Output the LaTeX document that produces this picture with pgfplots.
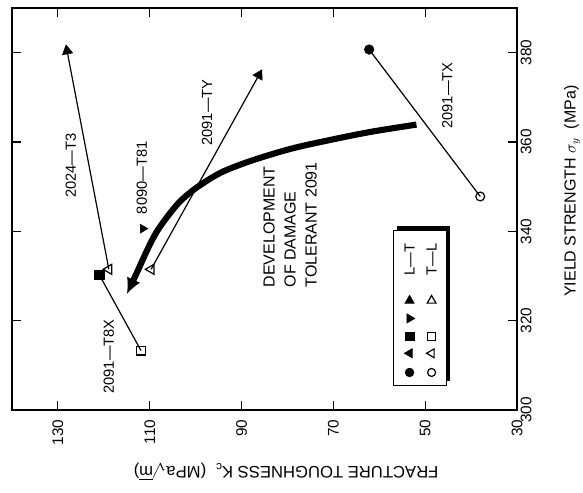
\documentclass[border=0pt]{standalone}
\usepackage{pgfplots}
\pgfplotsset{compat=1.18}
\usepackage{fontspec}
\setmainfont{Liberation Sans}
\usetikzlibrary{arrows.meta}
\begin{document}
\begin{tikzpicture}
\path[use as bounding box] (0,0) rectangle (437.25pt,369.75pt);
\begin{axis}[
  at={(9pt,62.25pt)}, anchor=south west,
  scale only axis, width=378.75pt, height=301.5pt,
  xmin=30, xmax=140, ymin=300, ymax=390,
  x dir=reverse,
  xtick={130,110,90,70,50,30},
  ytick={300,320,340,360,380},
  tick align=inside, tick pos=both,
  xticklabel pos=lower, yticklabel pos=right,
  major tick length=7pt,
  axis line style={line width=0.8pt, black},
  every tick/.style={line width=0.8pt, black},
  xticklabel style={yshift=-7pt, rotate=90, anchor=east, inner sep=0pt, font=\fontsize{11.5}{13}\selectfont},
  yticklabel style={xshift=2.5pt, rotate=90, anchor=north, inner sep=0pt, font=\fontsize{11.5}{13}\selectfont},
  /pgf/number format/assume math mode=true,
  clip=false,
]
% thick development curve
\addplot[line width=4.6pt, black, smooth, tension=0.5, -{Latex[length=12pt,width=11pt]}]
  coordinates {(51.9,363.9) (61.7,362.3) (70.5,360.5) (79.2,358.5) (87.9,355.8) (94.4,353.2) (99.5,350.0) (103.2,346.9) (106.0,343.5) (108.6,339.7) (110.6,335.7) (112.6,331.2) (115.0,325.9)};

% 2024-T3
\addplot[line width=0.9pt, black] coordinates {(128,380.4) (118.9,331.5)};
\addplot[only marks, black, mark=triangle*, mark size=4.5pt, mark options={rotate=10}] coordinates {(128,380.4)};
\addplot[only marks, black, mark=triangle, mark size=4.3pt, mark options={rotate=90, fill=white, line width=0.9pt}] coordinates {(118.9,331.5)};

% 2091-T8X
\addplot[line width=0.9pt, black] coordinates {(121,330.3) (111.9,313.3)};
\addplot[only marks, black, mark=square*, mark size=3.5pt] coordinates {(121,330.3)};
\addplot[only marks, black, mark=square, mark size=3.3pt, mark options={fill=white, line width=0.9pt}] coordinates {(111.9,313.3)};

% 2091-TY
\addplot[line width=0.9pt, black] coordinates {(109.7,331.5) (86.2,375)};
\addplot[only marks, black, mark=triangle*, mark size=4.5pt, mark options={rotate=-29}] coordinates {(86.2,375)};
\addplot[only marks, black, mark=triangle, mark size=4.3pt, mark options={rotate=90, fill=white, line width=0.9pt}] coordinates {(109.7,331.5)};

% 8090-T81
\addplot[only marks, black, mark=triangle*, mark size=3.8pt, mark options={rotate=-90}] coordinates {(111.5,340.6)};

% 2091-TX
\addplot[line width=0.9pt, black] coordinates {(62.2,380.7) (38,347.8)};
\addplot[only marks, black, mark=*, mark size=3.6pt] coordinates {(62.2,380.7)};
\addplot[only marks, black, mark=o, mark size=3.3pt, mark options={fill=white, line width=0.9pt}] coordinates {(38,347.8)};

% labels
\begin{scope}[every node/.style={font=\fontsize{11}{13}\selectfont, rotate=90}]
\node at (axis cs:127.2,354.7) {2024---T3};
\node at (axis cs:111.7,352) {8090---T81};
\node at (axis cs:97.5,366.6) {2091---TY};
\node at (axis cs:45.2,370.4) {2091---TX};
\node at (axis cs:118.9,312) {2091---T8X};
\end{scope}
\node[rotate=90, anchor=north west, inner sep=0pt, align=left, font=\fontsize{12}{15.75}\selectfont]
  at (axis cs:85.3,327.4) {DEVELOPMENT\\OF DAMAGE\\TOLERANT 2091};

% legend box
\fill[black] ([xshift=3pt,yshift=3pt]axis cs:56.9,305.5) rectangle ([xshift=3pt,yshift=3pt]axis cs:45.4,340.2);
\filldraw[fill=white, draw=black, line width=0.8pt] (axis cs:56.9,305.5) rectangle (axis cs:45.4,340.2);
\node[rotate=90, font=\fontsize{11}{13}\selectfont] at (axis cs:53.4,333.7) {L---T};
\node[rotate=90, font=\fontsize{11}{13}\selectfont] at (axis cs:48.6,333.7) {T---L};
\addplot[only marks, black, mark=triangle*, mark size=4pt] coordinates {(53.4,324.5)};
\addplot[only marks, black, mark=triangle*, mark size=4pt, mark options={rotate=-90}] coordinates {(53.4,320.5)};
\addplot[only marks, black, mark=square*, mark size=3.2pt] coordinates {(53.4,316.5)};
\addplot[only marks, black, mark=triangle*, mark size=4pt, mark options={rotate=90}] coordinates {(53.4,312.7)};
\addplot[only marks, black, mark=*, mark size=3.3pt] coordinates {(53.4,308.4)};
\addplot[only marks, black, mark=triangle, mark size=3.8pt, mark options={line width=0.9pt}] coordinates {(48.6,324.5)};
\addplot[only marks, black, mark=square, mark size=3pt, mark options={line width=0.9pt}] coordinates {(48.6,316.5)};
\addplot[only marks, black, mark=triangle, mark size=3.8pt, mark options={rotate=90, line width=0.9pt}] coordinates {(48.6,312.7)};
\addplot[only marks, black, mark=o, mark size=3pt, mark options={line width=0.9pt}] coordinates {(48.6,308.4)};

% axis labels
\node[rotate=90, inner sep=1pt, font=\fontsize{12}{14}\selectfont] at (axis cs:18,349) {YIELD STRENGTH $\sigma_y$ \ (MPa)};
\node[rotate=180, inner sep=1pt, font=\fontsize{12.5}{14}\selectfont] at (axis cs:80.3,286.3) {FRACTURE TOUGHNESS K\textsubscript{c} \ (MPa$\sqrt{\mathrm{m}}$)};
\end{axis}
\end{tikzpicture}
\end{document}
